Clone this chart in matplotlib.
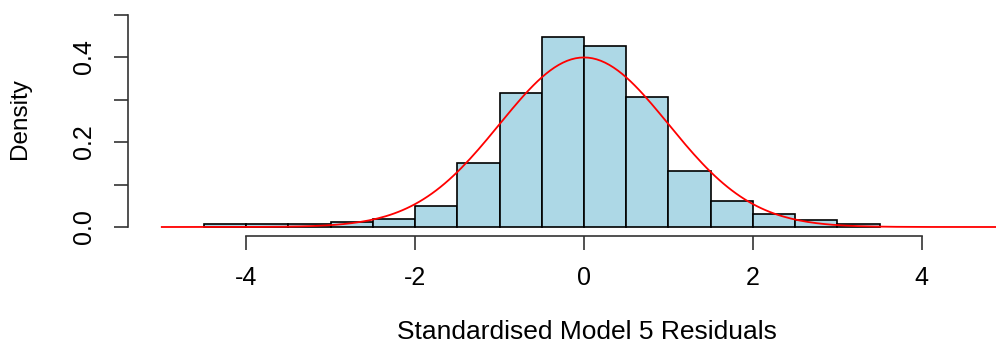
import numpy as np
import matplotlib
matplotlib.use('Agg')
import matplotlib.pyplot as plt

plt.rcParams['font.family'] = ['Liberation Sans', 'DejaVu Sans']

# histogram bins (edges, width 0.5) and densities
bin_edges = [-4.5, -4.0, -3.5, -3.0, -2.5, -2.0, -1.5, -1.0, -0.5,
             0.0, 0.5, 1.0, 1.5, 2.0, 2.5, 3.0, 3.5]
densities = [0.006, 0.006, 0.006, 0.0125, 0.018, 0.049, 0.150, 0.315,
             0.446, 0.427, 0.307, 0.132, 0.061, 0.031, 0.017, 0.006]

# reference normal curve
curve_mean = 0.0
curve_sd = 1.0
curve_from, curve_to = -5, 5

x_ticks = [-4, -2, 0, 2, 4]
y_ticks = [0.0, 0.1, 0.2, 0.3, 0.4, 0.5]
y_labels = ['0.0', '', '0.2', '', '0.4', '']

W, H = 996, 347
fig = plt.figure(figsize=(W / 100, H / 100), dpi=100)
# plot region in pixels (R style), right part runs off the image
left, right, top, bottom = 128, 1040, 6, 235.5
ax = fig.add_axes([left / W, (H - bottom) / H, (right - left) / W, (bottom - top) / H])

widths = np.diff(bin_edges)
ax.bar(bin_edges[:-1], densities, width=widths, align='edge',
       color='#ADD8E6', edgecolor='black', linewidth=1.2)

xs = np.linspace(curve_from, curve_to, 201)
ys = np.exp(-0.5 * ((xs - curve_mean) / curve_sd) ** 2) / (curve_sd * np.sqrt(2 * np.pi))
ax.plot(xs, ys, color='red', lw=1.3)

ax.set_xlim(-5.4, 5.4)
ax.set_ylim(-0.02, 0.52)

for s in ['top', 'right']:
    ax.spines[s].set_visible(False)
ax.spines['left'].set_bounds(0, 0.5)
ax.spines['bottom'].set_bounds(-4, 4)
for s in ['left', 'bottom']:
    ax.spines[s].set_color('#333333')
    ax.spines[s].set_linewidth(1.2)

ax.set_xticks(x_ticks)
ax.set_xticklabels([str(t) for t in x_ticks])
ax.set_yticks(y_ticks)
ax.set_yticklabels(y_labels)
ax.tick_params(axis='both', length=10, width=1.2, color='#333333', labelsize=18)
ax.tick_params(axis='x', pad=12)
ax.tick_params(axis='y', pad=13, labelrotation=90)
for lab in ax.get_yticklabels():
    lab.set_va('center')

ax.set_xlabel('Standardised Model 5 Residuals', fontsize=19)
ax.xaxis.set_label_coords((586.5 - left) / (right - left), (bottom - 332) / (bottom - top))
ax.xaxis.label.set_va('center')
ax.set_ylabel('Density', fontsize=17.5)
ax.yaxis.set_label_coords((20 - left) / (right - left), (bottom - 119) / (bottom - top))
ax.yaxis.label.set_va('center')

fig.savefig('out.png', dpi=100)
